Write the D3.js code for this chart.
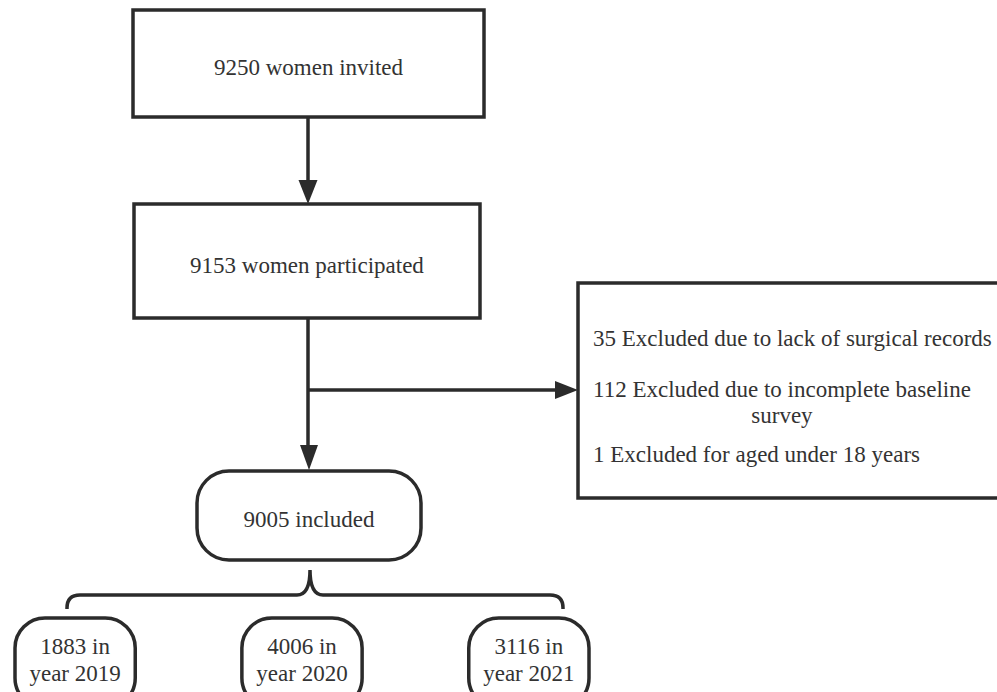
<!DOCTYPE html>
<html>
<head>
<meta charset="utf-8">
<script src="https://cdn.jsdelivr.net/npm/d3@7"></script>
<style>
  body { margin: 0; background: #fff; }
  text { font-family: "Liberation Serif", "Times New Roman", serif; fill: #333; }
</style>
</head>
<body>
<script>
// flowchart contents
const stepLabels = ["9250 women invited", "9153 women participated", "9005 included"];
const excludedCounts = [35, 112, 1];
const excludedReasons = [
  ["Excluded due to lack of surgical records"],
  ["Excluded due to incomplete baseline", "survey"],
  ["Excluded for aged under 18 years"]
];
const yearCounts = [1883, 4006, 3116];
const years = [2019, 2020, 2021];

const W = 997, H = 692;
const ink = "#2b2b2b";
const fs = 23;

var svg = d3.select("body").append("svg")
  .attr("width", W).attr("height", H);

// rect boxes
const boxes = [
  {x0: 133, x1: 484, y0: 10, y1: 117, base: 75},
  {x0: 134, x1: 480, y0: 204, y1: 318, base: 273}
];
boxes.forEach((b, i) => {
  svg.append("rect")
    .attr("x", b.x0).attr("y", b.y0)
    .attr("width", b.x1 - b.x0).attr("height", b.y1 - b.y0)
    .attr("fill", "none").attr("stroke", ink).attr("stroke-width", 3.5);
  svg.append("text")
    .attr("x", (b.x0 + b.x1) / 2).attr("y", b.base)
    .attr("text-anchor", "middle").attr("font-size", fs)
    .text(stepLabels[i]);
});

// included box (rounded)
svg.append("rect")
  .attr("x", 197).attr("y", 471).attr("width", 224).attr("height", 89)
  .attr("rx", 32).attr("ry", 32)
  .attr("fill", "none").attr("stroke", ink).attr("stroke-width", 3.5);
svg.append("text")
  .attr("x", 309).attr("y", 527)
  .attr("text-anchor", "middle").attr("font-size", fs)
  .text(stepLabels[2]);

// exclusion box, runs off the right edge
svg.append("rect")
  .attr("x", 578).attr("y", 283).attr("width", 440).attr("height", 215)
  .attr("fill", "none").attr("stroke", ink).attr("stroke-width", 3.5);

const exclBase = [346, 397, 462];
const ex = svg.append("g");
excludedCounts.forEach((n, i) => {
  const lines = excludedReasons[i];
  const t = ex.append("text")
    .attr("x", 593).attr("y", exclBase[i]).attr("font-size", fs)
    .text(n + " " + lines[0]);
  if (lines.length > 1) {
    const w = t.node().getComputedTextLength();
    ex.append("text")
      .attr("x", 593 + w / 2).attr("y", exclBase[i] + 26)
      .attr("text-anchor", "middle").attr("font-size", fs)
      .text(lines[1]);
  }
});

// connectors
const line = d3.line();
function seg(pts) {
  svg.append("path").attr("d", line(pts))
    .attr("fill", "none").attr("stroke", ink).attr("stroke-width", 3.5);
}
function head(pts) {
  svg.append("path").attr("d", line(pts) + "Z").attr("fill", ink);
}
seg([[308, 117], [308, 185]]);
head([[298.5, 180], [317.5, 180], [308, 204]]);

seg([[308, 318], [308, 450]]);
head([[300, 445], [318, 445], [309, 470]]);

seg([[308, 390], [560, 390]]);
head([[555, 381], [555, 399], [578, 390]]);

// brace
const bx = 310, bTop = 570, bMid = 595, bEnd = 609, r = 13;
const xl = 67, xr = 563;
svg.append("path")
  .attr("d", `M${bx},${bTop} Q${bx},${bMid} ${bx - r},${bMid} L${xl + r},${bMid} Q${xl},${bMid} ${xl},${bMid + r} L${xl},${bEnd}
              M${bx},${bTop} Q${bx},${bMid} ${bx + r},${bMid} L${xr - r},${bMid} Q${xr},${bMid} ${xr},${bMid + r} L${xr},${bEnd}`)
  .attr("fill", "none").attr("stroke", ink).attr("stroke-width", 3.5);

// year boxes
const x = d3.scaleBand().domain(years).range([15, 589]).paddingInner(0.47);
const yg = svg.selectAll(".yr").data(years).enter().append("g");
yg.append("rect")
  .attr("x", d => x(d)).attr("y", 618)
  .attr("width", x.bandwidth()).attr("height", 90)
  .attr("rx", 30).attr("ry", 30)
  .attr("fill", "none").attr("stroke", ink).attr("stroke-width", 3.5);
yg.append("text")
  .attr("x", d => x(d) + x.bandwidth() / 2).attr("y", 654)
  .attr("text-anchor", "middle").attr("font-size", fs)
  .text((d, i) => yearCounts[i] + " in");
yg.append("text")
  .attr("x", d => x(d) + x.bandwidth() / 2).attr("y", 681)
  .attr("text-anchor", "middle").attr("font-size", fs)
  .text(d => "year " + d);
</script>
</body>
</html>
